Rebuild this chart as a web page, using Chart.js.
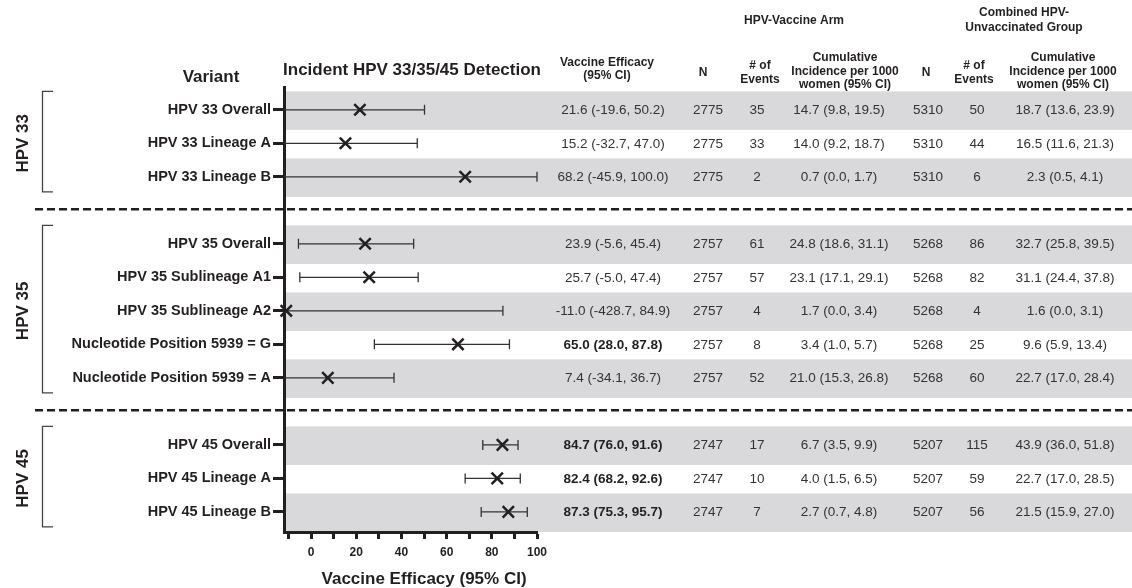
<!DOCTYPE html>
<html>
<head>
<meta charset="utf-8">
<title>Incident HPV 33/35/45 Detection</title>
<script src="https://cdn.jsdelivr.net/npm/chart.js@4/dist/chart.umd.min.js"></script>
<style>
  html, body { margin: 0; padding: 0; background: #fff; }
  #wrap { width: 1132px; height: 588px; }
</style>
</head>
<body>
<div id="wrap"><canvas id="forest" width="1132" height="588"></canvas></div>
<script>
// ---- data ----
const groups = ['HPV 33', 'HPV 35', 'HPV 45'];
const variants = [
  'HPV 33 Overall', 'HPV 33 Lineage A', 'HPV 33 Lineage B',
  'HPV 35 Overall', 'HPV 35 Sublineage A1', 'HPV 35 Sublineage A2',
  'Nucleotide Position 5939 = G', 'Nucleotide Position 5939 = A',
  'HPV 45 Overall', 'HPV 45 Lineage A', 'HPV 45 Lineage B'
];
const variantGroup = [0, 0, 0, 1, 1, 1, 1, 1, 2, 2, 2];

// vaccine efficacy (%) with 95% CI
const veEst  = [21.6, 15.2, 68.2, 23.9, 25.7, -11.0, 65.0, 7.4, 84.7, 82.4, 87.3];
const veLow  = [-19.6, -32.7, -45.9, -5.6, -5.0, -428.7, 28.0, -34.1, 76.0, 68.2, 75.3];
const veHigh = [50.2, 47.0, 100.0, 45.4, 47.4, 84.9, 87.8, 36.7, 91.6, 92.6, 95.7];

// HPV-vaccine arm
const vaxN       = [2775, 2775, 2775, 2757, 2757, 2757, 2757, 2757, 2747, 2747, 2747];
const vaxEvents  = [35, 33, 2, 61, 57, 4, 8, 52, 17, 10, 7];
const vaxInc     = [14.7, 14.0, 0.7, 24.8, 23.1, 1.7, 3.4, 21.0, 6.7, 4.0, 2.7];
const vaxIncLow  = [9.8, 9.2, 0.0, 18.6, 17.1, 0.0, 1.0, 15.3, 3.5, 1.5, 0.7];
const vaxIncHigh = [19.5, 18.7, 1.7, 31.1, 29.1, 3.4, 5.7, 26.8, 9.9, 6.5, 4.8];

// combined HPV-unvaccinated group
const unvN       = [5310, 5310, 5310, 5268, 5268, 5268, 5268, 5268, 5207, 5207, 5207];
const unvEvents  = [50, 44, 6, 86, 82, 4, 25, 60, 115, 59, 56];
const unvInc     = [18.7, 16.5, 2.3, 32.7, 31.1, 1.6, 9.6, 22.7, 43.9, 22.7, 21.5];
const unvIncLow  = [13.6, 11.6, 0.5, 25.8, 24.4, 0.0, 5.9, 17.0, 36.0, 17.0, 15.9];
const unvIncHigh = [23.9, 21.3, 4.1, 39.5, 37.8, 3.1, 13.4, 28.4, 51.8, 28.5, 27.0];

// x axis ticks (every 10, labelled every 20)
const xTicks = [-10, 0, 10, 20, 30, 40, 50, 60, 70, 80, 90, 100];
const xTickLabels = ['', '0', '', '20', '', '40', '', '60', '', '80', '', '100'];

// ---- helpers ----
// each group is followed by one empty slot that holds the dashed separator
const slotOf = i => i + variantGroup[i];
const slots = variants.map((_, i) => slotOf(i));
const fmtCI = (v, lo, hi) => `${v.toFixed(1)} (${lo.toFixed(1)}, ${hi.toFixed(1)})`;

const FONT = '"Liberation Sans", Arial, Helvetica, sans-serif';
const INK = '#231f20';
const TEXT = '#333333';
const BAND = '#d9d9db';

function text(ctx, str, x, y, size, bold, color, align) {
  ctx.font = `${bold ? 'bold ' : ''}${size}px ${FONT}`;
  ctx.fillStyle = color;
  ctx.textAlign = align || 'center';
  ctx.textBaseline = 'middle';
  ctx.fillText(str, x, y);
}

// background bands, group brackets, separators, headers and table columns
const tablePlugin = {
  id: 'forestTable',
  beforeDraw(chart) {
    const { ctx, chartArea, scales: { x, y } } = chart;
    const W = chart.width;
    ctx.save();

    // alternating grey row bands across plot and table
    ctx.fillStyle = BAND;
    slots.forEach(s => {
      if (s % 2 !== 0) return;
      const top = y.getPixelForValue(s - 0.55);
      const bot = y.getPixelForValue(s + 0.6);
      ctx.fillRect(chartArea.left + 1.5, top, W - chartArea.left, bot - top);
    });

    // dashed separators between groups
    ctx.strokeStyle = INK;
    ctx.lineWidth = 2.5;
    ctx.setLineDash([8, 4]);
    groups.forEach((g, gi) => {
      if (gi === 0) return;
      const first = variantGroup.indexOf(gi);
      const py = y.getPixelForValue(slotOf(first) - 1.03);
      ctx.beginPath();
      ctx.moveTo(35, py);
      ctx.lineTo(W, py);
      ctx.stroke();
    });
    ctx.setLineDash([]);

    // group brackets and rotated group names
    groups.forEach((g, gi) => {
      const first = variantGroup.indexOf(gi);
      const last = variantGroup.lastIndexOf(gi);
      const top = y.getPixelForValue(slotOf(first) - 0.55);
      const bot = y.getPixelForValue(slotOf(last) + 0.45);
      ctx.strokeStyle = '#444';
      ctx.lineWidth = 1.3;
      ctx.beginPath();
      ctx.moveTo(53, top); ctx.lineTo(42.5, top);
      ctx.lineTo(42.5, bot); ctx.lineTo(53, bot);
      ctx.stroke();
      const mid = (y.getPixelForValue(slotOf(first)) + y.getPixelForValue(slotOf(last))) / 2;
      ctx.save();
      ctx.translate(23, mid);
      ctx.rotate(-Math.PI / 2);
      text(ctx, g, 0, 0, 17, true, INK);
      ctx.restore();
    });

    // titles
    text(ctx, 'Variant', 211, 77, 17, true, INK);
    text(ctx, 'Incident HPV 33/35/45 Detection', 412, 70, 17, true, INK);

    // column headers
    const H = 12;
    text(ctx, 'HPV-Vaccine Arm', 794, 21, H, true, INK);
    text(ctx, 'Combined HPV-', 1024, 13, H, true, INK);
    text(ctx, 'Unvaccinated Group', 1024, 28, H, true, INK);
    text(ctx, 'Vaccine Efficacy', 607, 63, H, true, INK);
    text(ctx, '(95% CI)', 607, 76, H, true, INK);
    text(ctx, 'N', 703, 73, H, true, INK);
    text(ctx, '# of', 760, 66, H, true, INK);
    text(ctx, 'Events', 760, 79.5, H, true, INK);
    text(ctx, 'Cumulative', 845, 58, H, true, INK);
    text(ctx, 'Incidence per 1000', 845, 71.5, H, true, INK);
    text(ctx, 'women (95% CI)', 845, 85, H, true, INK);
    text(ctx, 'N', 926, 73, H, true, INK);
    text(ctx, '# of', 974, 66, H, true, INK);
    text(ctx, 'Events', 974, 79.5, H, true, INK);
    text(ctx, 'Cumulative', 1063, 58, H, true, INK);
    text(ctx, 'Incidence per 1000', 1063, 71.5, H, true, INK);
    text(ctx, 'women (95% CI)', 1063, 85, H, true, INK);

    // table body
    const D = 13.5;
    variants.forEach((v, i) => {
      const py = y.getPixelForValue(slotOf(i)) + 0.5;
      const significant = veLow[i] > 0;
      text(ctx, fmtCI(veEst[i], veLow[i], veHigh[i]), 613, py, D, significant, significant ? INK : TEXT);
      text(ctx, String(vaxN[i]), 708, py, D, false, TEXT);
      text(ctx, String(vaxEvents[i]), 757, py, D, false, TEXT);
      text(ctx, fmtCI(vaxInc[i], vaxIncLow[i], vaxIncHigh[i]), 839, py, D, false, TEXT);
      text(ctx, String(unvN[i]), 928, py, D, false, TEXT);
      text(ctx, String(unvEvents[i]), 977, py, D, false, TEXT);
      text(ctx, fmtCI(unvInc[i], unvIncLow[i], unvIncHigh[i]), 1065, py, D, false, TEXT);
    });
    ctx.restore();
  },

  // confidence interval whiskers, clipped to the axis range
  beforeDatasetsDraw(chart) {
    const { ctx, scales: { x, y } } = chart;
    ctx.save();
    ctx.strokeStyle = '#333';
    ctx.lineWidth = 1.3;
    variants.forEach((v, i) => {
      const py = y.getPixelForValue(slotOf(i));
      const lo = Math.max(veLow[i], x.min);
      const hi = Math.min(veHigh[i], x.max);
      const x1 = x.getPixelForValue(lo);
      const x2 = x.getPixelForValue(hi);
      ctx.beginPath();
      ctx.moveTo(x1, py); ctx.lineTo(x2, py);
      if (veLow[i] >= x.min) { ctx.moveTo(x1, py - 5); ctx.lineTo(x1, py + 5); }
      if (veHigh[i] <= x.max) { ctx.moveTo(x2, py - 5); ctx.lineTo(x2, py + 5); }
      ctx.stroke();
    });
    ctx.restore();
  },

  afterDraw(chart) {
    const { ctx, scales: { x } } = chart;
    ctx.save();
    const cx = (x.getPixelForValue(0) + x.getPixelForValue(100)) / 2;
    text(ctx, 'Vaccine Efficacy (95% CI)', cx, 579, 17, true, INK);
    ctx.restore();
  }
};

new Chart(document.getElementById('forest'), {
  type: 'scatter',
  data: {
    datasets: [{
      data: variants.map((v, i) => ({ x: veEst[i], y: slotOf(i) })),
      pointStyle: 'crossRot',
      pointRadius: 8,
      pointHoverRadius: 8,
      borderWidth: 2.5,
      borderColor: INK,
      backgroundColor: INK,
      clip: false
    }]
  },
  options: {
    responsive: false,
    animation: false,
    devicePixelRatio: 1,
    layout: { padding: { left: 0, right: 595, top: 87, bottom: 0 } },
    plugins: { legend: { display: false }, tooltip: { enabled: false } },
    scales: {
      x: {
        type: 'linear',
        min: -12,
        max: 100,
        afterFit: s => { s.height = 56; },
        afterBuildTicks: s => { s.ticks = xTicks.map(v => ({ value: v })); },
        border: { display: true, color: INK, width: 3 },
        grid: { drawOnChartArea: false, drawTicks: true, tickLength: 7, tickWidth: 3, tickColor: INK },
        ticks: {
          autoSkip: false,
          maxRotation: 0,
          padding: 6,
          color: INK,
          font: { family: FONT, size: 12, weight: 'bold' },
          callback: value => xTickLabels[xTicks.indexOf(value)] ?? ''
        }
      },
      y: {
        type: 'linear',
        reverse: true,
        min: -0.68,
        max: 12.6,
        afterFit: s => { s.width = 284; },
        afterBuildTicks: s => { s.ticks = slots.map(v => ({ value: v })); },
        border: { display: true, color: INK, width: 3 },
        grid: { drawOnChartArea: false, drawTicks: true, tickLength: 11, tickWidth: 3, tickColor: INK },
        ticks: {
          autoSkip: false,
          padding: 2,
          color: INK,
          font: { family: FONT, size: 14.5, weight: 'bold' },
          callback: value => variants[slots.indexOf(value)] ?? ''
        }
      }
    }
  },
  plugins: [tablePlugin]
});
</script>
</body>
</html>
